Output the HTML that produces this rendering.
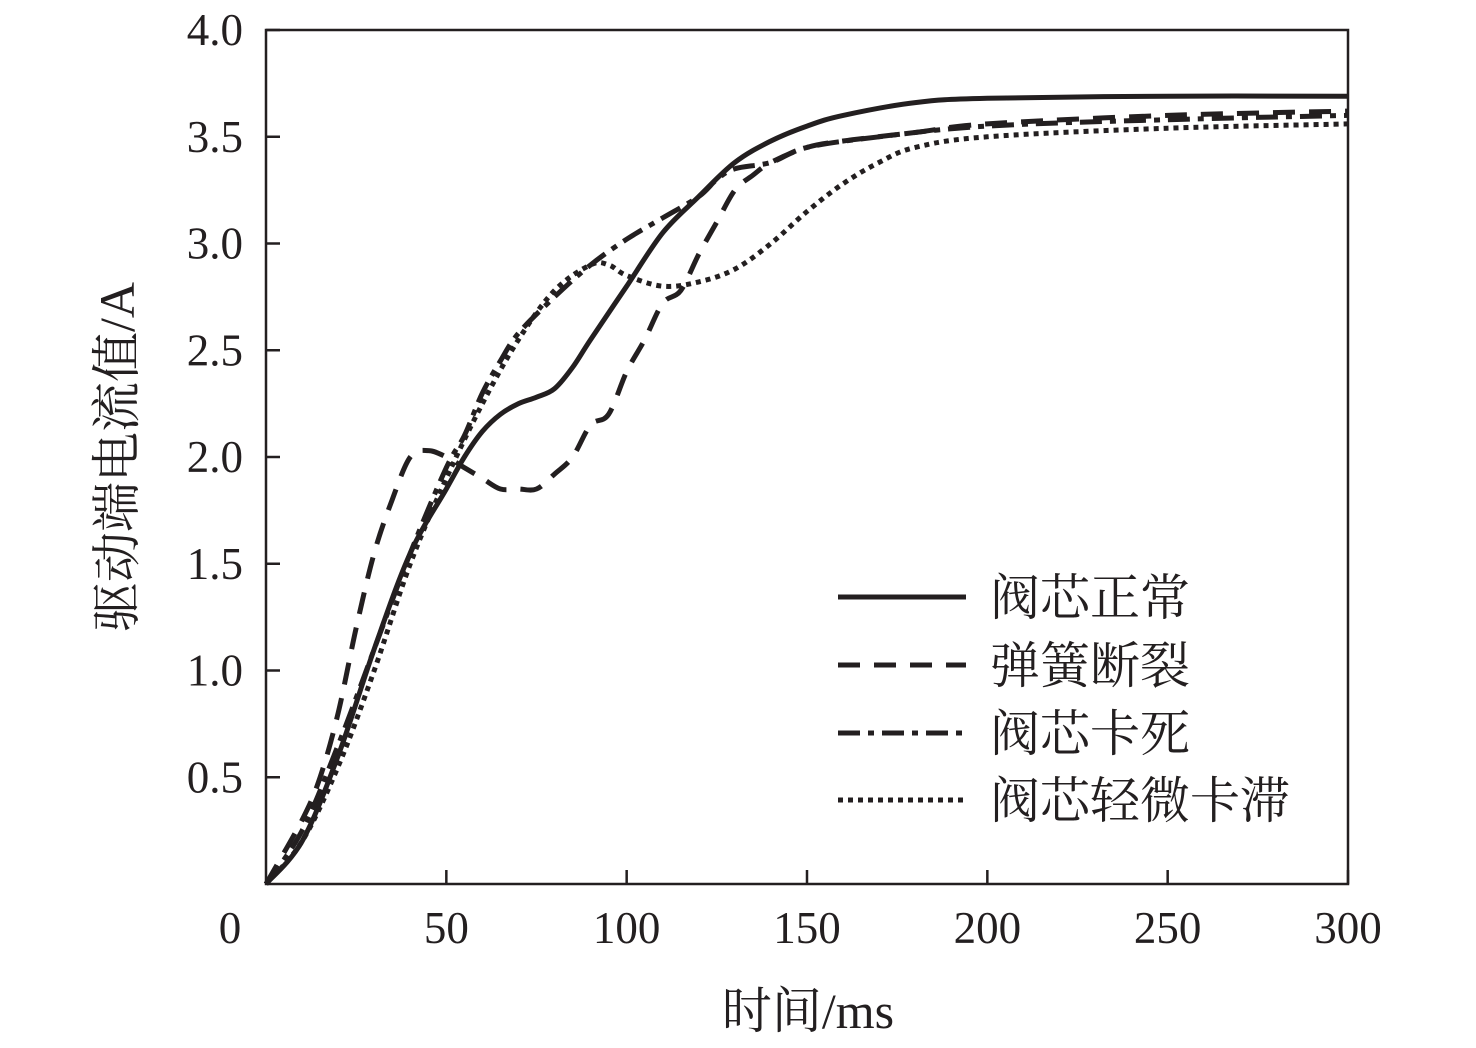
<!DOCTYPE html>
<html><head><meta charset="utf-8"><style>
body{margin:0;background:#fff;}
svg text{font-family:"Liberation Serif","Noto Serif CJK SC",serif;fill:#231f20;}
</style></head><body>
<svg id="chart" width="1476" height="1043" xmlns="http://www.w3.org/2000/svg">
<g id="axes"></g><g id="series"></g><g id="legend"></g>
</svg>
<script>
const xTicks=[50,100,150,200,250,300];
const yTicks=[0.5,1.0,1.5,2.0,2.5,3.0,3.5,4.0];
const seriesNames=["阀芯正常","弹簧断裂","阀芯卡死","阀芯轻微卡滞"];
const tNormal=[0,10,20,30,40,50,55,60,65,70,75,80,85,90,100,110,120,130,140,150,160,180,200,250,300];
const vNormal=[0,0.2,0.6,1.1,1.55,1.85,2.0,2.12,2.2,2.25,2.28,2.32,2.42,2.55,2.8,3.05,3.22,3.38,3.48,3.55,3.6,3.66,3.68,3.69,3.69];
const tSpring=[0,10,15,20,25,30,35,40,45,50,55,60,65,70,75,80,85,90,95,100,105,110,115,120,125,130,135,140,150,160,180,200,250,300];
const vSpring=[0,0.3,0.5,0.8,1.2,1.55,1.8,2.0,2.03,2.0,1.95,1.9,1.85,1.85,1.85,1.92,2.0,2.15,2.2,2.4,2.55,2.72,2.78,2.95,3.1,3.25,3.32,3.38,3.45,3.48,3.52,3.56,3.6,3.62];
const tStuck=[0,10,20,30,40,50,55,60,65,70,80,90,100,110,120,125,130,140,150,170,200,250,300];
const vStuck=[0,0.25,0.65,1.1,1.55,1.95,2.1,2.3,2.45,2.58,2.75,2.9,3.02,3.12,3.22,3.3,3.35,3.38,3.45,3.5,3.55,3.58,3.6];
const tSlight=[0,10,20,30,40,50,60,70,80,90,95,100,110,120,130,140,150,160,170,180,200,250,300];
const vSlight=[0,0.2,0.55,1.0,1.5,1.9,2.25,2.55,2.78,2.9,2.9,2.85,2.8,2.82,2.88,3.0,3.15,3.28,3.38,3.45,3.5,3.54,3.56];

const NS="http://www.w3.org/2000/svg";
const X0=266,X1=1348,Y0=884,Y1=30;
const sx=t=>X0+(X1-X0)*t/300, sy=v=>Y0-(Y0-Y1)*v/4;
function mk(tag,attrs,parent){const e=document.createElementNS(NS,tag);for(const k in attrs)e.setAttribute(k,attrs[k]);parent.appendChild(e);return e;}
function smooth(pts){
 let d='M'+pts[0][0].toFixed(1)+','+pts[0][1].toFixed(1);
 for(let i=0;i<pts.length-1;i++){
  const p0=pts[Math.max(0,i-1)],p1=pts[i],p2=pts[i+1],p3=pts[Math.min(pts.length-1,i+2)];
  const c1=[p1[0]+(p2[0]-p0[0])/6,p1[1]+(p2[1]-p0[1])/6];
  const c2=[p2[0]-(p3[0]-p1[0])/6,p2[1]-(p3[1]-p1[1])/6];
  d+=' C'+c1.map(v=>v.toFixed(1)).join(',')+' '+c2.map(v=>v.toFixed(1)).join(',')+' '+p2[0].toFixed(1)+','+p2[1].toFixed(1);
 }
 return d;
}
const axes=document.getElementById('axes');
const frame=mk('rect',{x:X0,y:Y1,width:X1-X0,height:Y0-Y1,fill:'none',stroke:'#231f20','stroke-width':2.5},axes);


const z=mk('text',{x:230,y:943,'font-size':45,'text-anchor':'middle'},axes);z.textContent='0';


xTicks.forEach(t=>{
 const l=mk('line',{x1:sx(t),x2:sx(t),y1:Y0,y2:Y0-14,stroke:'#231f20','stroke-width':2.5},axes);
 
 
 const tx=mk('text',{x:sx(t),y:943,'font-size':45,'text-anchor':'middle'},axes);tx.textContent=t;
 
 
});
yTicks.forEach(v=>{
 const l=mk('line',{x1:X0,x2:X0+14,y1:sy(v),y2:sy(v),stroke:'#231f20','stroke-width':2.5},axes);
 
 
 const tx=mk('text',{x:243,y:sy(v)+15,'font-size':45,'text-anchor':'end'},axes);tx.textContent=v.toFixed(1);
 
 
});
const xt=mk('text',{x:808,y:1028,'font-size':50,'text-anchor':'middle'},axes);xt.textContent='时间/ms';


const yt=mk('text',{x:0,y:0,'font-size':50,'text-anchor':'middle',transform:'translate(134,457) rotate(-90)'},axes);yt.textContent='驱动端电流值/A';



const dashes=['none','22,14','22,8,6,8','5,5'];
const ts=[tNormal,tSpring,tStuck,tSlight], vs=[vNormal,vSpring,vStuck,vSlight];
const ser=document.getElementById('series');
for(let i=0;i<4;i++){
 const pts=ts[i].map((t,j)=>[sx(t),sy(vs[i][j])]);
 const p=mk('path',{d:smooth(pts),fill:'none',stroke:'#231f20','stroke-width':5,'stroke-dasharray':dashes[i],'stroke-linejoin':'round'},ser);
 
 
}
const leg=document.getElementById('legend');
const ly=[597,665,733,800];
for(let i=0;i<4;i++){
 const l=mk('line',{x1:838,x2:966,y1:ly[i],y2:ly[i],stroke:'#231f20','stroke-width':5,'stroke-dasharray':dashes[i]},leg);
 
 
 const tx=mk('text',{x:990,y:ly[i]+18,'font-size':50},leg);tx.textContent=seriesNames[i];
 
 
}
</script>
</body></html>
